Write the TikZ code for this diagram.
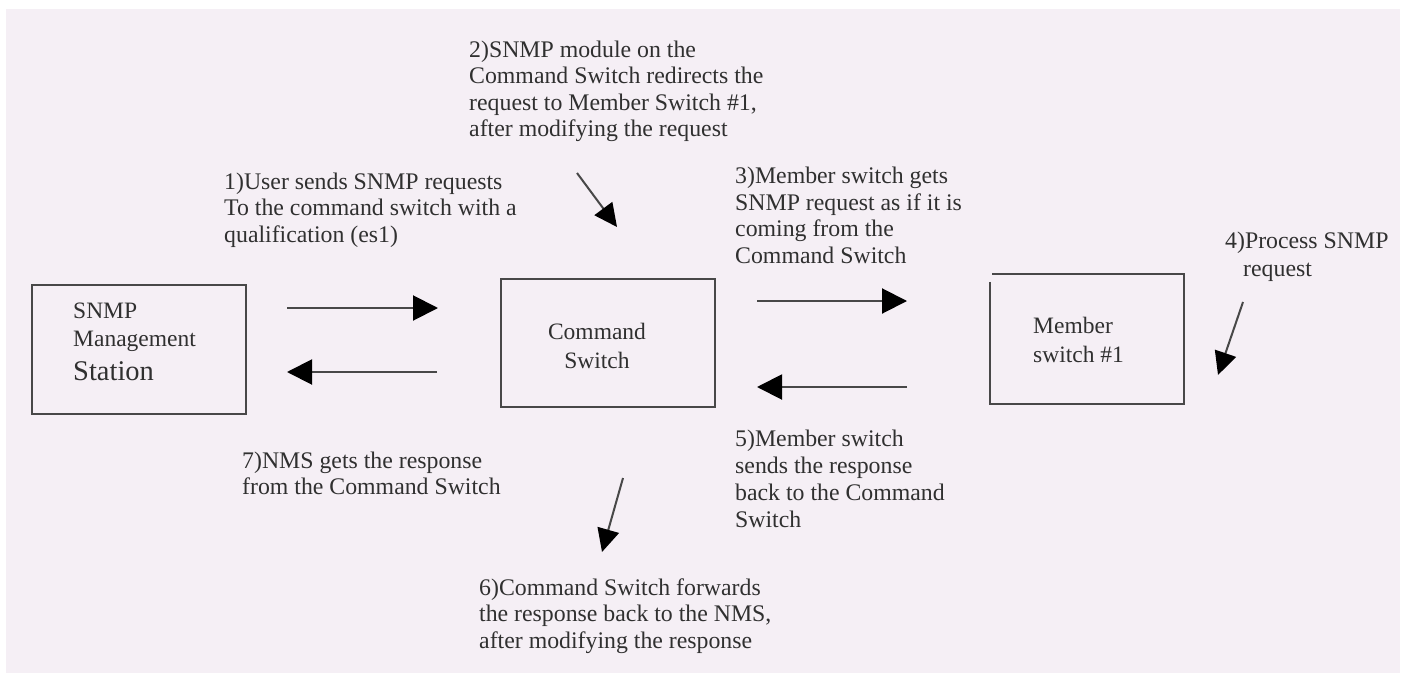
\documentclass[tikz,border=0pt]{standalone}
\usepackage{fontspec}
\setmainfont{Liberation Serif}
\usetikzlibrary{arrows.meta}
\definecolor{bgpink}{RGB}{245,239,245}
\definecolor{ink}{RGB}{48,48,48}
\definecolor{linec}{RGB}{72,72,72}
\begin{document}
\begin{tikzpicture}[x=1pt,y=-1pt,
  lbl/.style={anchor=base west, inner sep=0pt, align=left, text=ink, font=\fontsize{23.8}{26.5}\selectfont},
  boxtxt/.style={anchor=base west, inner sep=0pt, align=left, text=ink, font=\fontsize{23.5}{28.5}\selectfont},
  box/.style={draw=linec, line width=2pt, inner sep=0pt},
  flow/.style={draw=linec, line width=2pt, -{Triangle[length=25pt,width=25pt,color=black]}},
  slant/.style={draw=linec, line width=2pt, -{Triangle[length=23pt,width=22pt,color=black]}}
]
\useasboundingbox (0,0) rectangle (1404,674);
\fill[bgpink] (6,9) rectangle (1400,673);

% boxes
\node[box, minimum width=214pt, minimum height=129pt] (nms) at (139,349.5) {};
\node[box, minimum width=214pt, minimum height=128pt] (cmd) at (608,343) {};
\node[inner sep=0pt, minimum width=194pt, minimum height=130pt] (mem) at (1087,339) {};
\draw[linec, line width=2pt] ([yshift=-8pt]mem.north west) -- (mem.south west) -- (mem.south east) -- (mem.north east) -- ([xshift=2pt]mem.north west);

% box texts (base anchor = baseline of last line)
\node[boxtxt] (nmst) at (73,380) {SNMP\\Management\\[5pt]\fontsize{28.5}{33}\selectfont Station};
\node[boxtxt, anchor=base, align=center] (cmdt) at (597,368) {Command\\Switch};
\node[boxtxt] (memt) at (1033,362) {Member\\switch \#1};

% labels (base anchor = baseline of last line)
\node[lbl] (t1) at (224,242) {1)User sends SNMP requests\\To the command switch with a\\qualification (es1)};
\node[lbl] (t2) at (469,136.5) {2)SNMP module on the\\Command Switch redirects the\\request to Member Switch \#1,\\after modifying the request};
\node[lbl] (t3) at (735,263) {3)Member switch gets\\SNMP request as if it is\\coming from the\\Command Switch};
\node[lbl] (t4) at (1225,276) {4)Process SNMP\\[1.5pt]\hspace*{18pt}request};
\node[lbl] (t5) at (735,527) {5)Member switch\\[0.5pt]sends the response\\[0.5pt]back to the Command\\[0.5pt]Switch};
\node[lbl] (t6) at (479,648) {6)Command Switch forwards\\the response back to the NMS,\\after modifying the response};
\node[lbl] (t7) at (242,494.5) {7)NMS gets the response\\from the Command Switch};

% arrow end points
\coordinate (a1s) at (287,308); \coordinate (a1e) at (438,308);
\coordinate (a7s) at (437,372); \coordinate (a7e) at (287,372);
\coordinate (a3s) at (757,301); \coordinate (a3e) at (907,301);
\coordinate (a5s) at (907,387); \coordinate (a5e) at (757,387);
\coordinate (a2s) at (577,173); \coordinate (a2e) at (617,227);
\coordinate (a4s) at (1243,302); \coordinate (a4e) at (1218,375);
\coordinate (a6s) at (623,478); \coordinate (a6e) at (602,552);

\draw[flow] (a1s) -- (a1e);
\draw[flow] (a7s) -- (a7e);
\draw[flow] (a3s) -- (a3e);
\draw[flow] (a5s) -- (a5e);
\draw[slant] (a2s) -- (a2e);
\draw[slant] (a4s) -- (a4e);
\draw[slant] (a6s) -- (a6e);
\end{tikzpicture}
\end{document}
